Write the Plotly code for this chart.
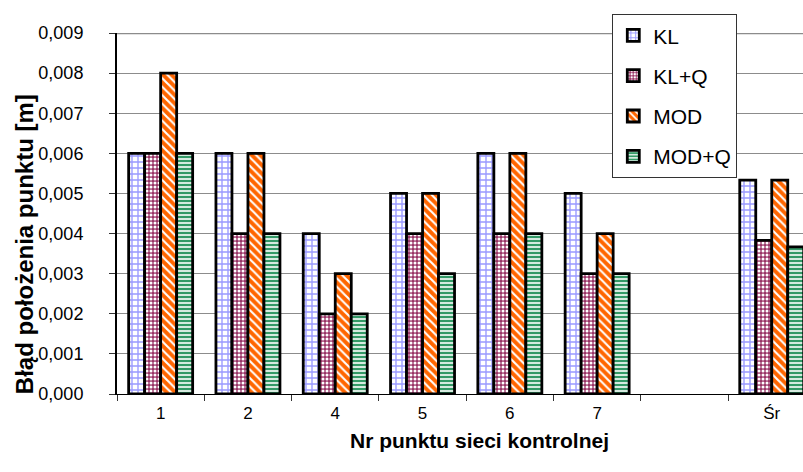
import plotly.graph_objects as go

categories = ["1", "2", "4", "5", "6", "7", " ", "Śr"]
kl = [0.006, 0.006, 0.004, 0.005, 0.006, 0.005, None, 0.00533]
kl_q = [0.006, 0.004, 0.002, 0.004, 0.004, 0.003, None, 0.00383]
mod = [0.008, 0.006, 0.003, 0.005, 0.006, 0.004, None, 0.00533]
mod_q = [0.006, 0.004, 0.002, 0.003, 0.004, 0.003, None, 0.00367]
y_ticks = [0.000, 0.001, 0.002, 0.003, 0.004, 0.005, 0.006, 0.007, 0.008, 0.009]
x_title = "Nr punktu sieci kontrolnej"
y_title = "Błąd położenia punktu [m]"

FONT = "Liberation Sans, Arial, sans-serif"

series = [
    ("KL", kl, dict(shape="+", fgcolor="#9999FF", bgcolor="white", size=6, solidity=0.4)),
    ("KL+Q", kl_q, dict(shape=".", fgcolor="white", bgcolor="#993366", size=4, solidity=0.45)),
    ("MOD", mod, dict(shape="\\", fgcolor="white", bgcolor="#FF6600", size=6, solidity=0.35)),
    ("MOD+Q", mod_q, dict(shape="-", fgcolor="white", bgcolor="#339966", size=4, solidity=0.4)),
]

fig = go.Figure()
for i, (name, vals, pat) in enumerate(series):
    fig.add_trace(go.Bar(
        x=categories, y=vals, name=name, legendgroup=name,
        marker=dict(pattern=dict(fillmode="replace", **pat),
                    line=dict(color="black", width=2.8)),
    ))

fig.add_shape(type="line", xref="paper", yref="y", x0=0, x1=1, y0=0.009, y1=0.009,
              line=dict(color="#8C8C8C", width=2.5), layer="above")

fig.add_annotation(text="<b>" + y_title + "</b>", xref="paper", yref="paper",
                   x=-0.1356, y=0.415, xanchor="center", yanchor="middle",
                   textangle=-90, showarrow=False, font=dict(size=24))
fig.add_annotation(text="<b>" + x_title + "</b>", xref="paper", yref="paper",
                   x=0.528, y=-0.128, xanchor="center", yanchor="middle",
                   showarrow=False, font=dict(size=21))

fig.update_layout(
    width=803, height=472,
    margin=dict(l=117, r=0, t=33, b=78),
    paper_bgcolor="white", plot_bgcolor="white",
    separators=",.",
    barmode="group", bargap=0.267, bargroupgap=0,
    font=dict(family=FONT, color="black", size=18),
    showlegend=True,
    legend=dict(x=0.722, y=1.052, xanchor="left", yanchor="top",
                bgcolor="white", bordercolor="#333333", borderwidth=1,
                font=dict(size=21), traceorder="grouped", tracegroupgap=10,
                itemwidth=30),
    xaxis=dict(type="category", range=[-0.5, 7.358], tickson="boundaries",
               ticks="outside", ticklen=6, tickcolor="#333333",
               showline=True, linecolor="black", linewidth=1,
               showgrid=False, tickfont=dict(size=17), ticklabelstandoff=4),
    yaxis=dict(range=[0, 0.009], tickvals=y_ticks, tickformat=".3f",
               ticks="outside", ticklen=6, tickcolor="#333333",
               showline=True, linecolor="black", linewidth=2,
               showgrid=True, gridcolor="#8C8C8C", gridwidth=1,
               zeroline=False, tickfont=dict(size=18), ticklabelstandoff=22),
)

fig.write_html("out.html")
